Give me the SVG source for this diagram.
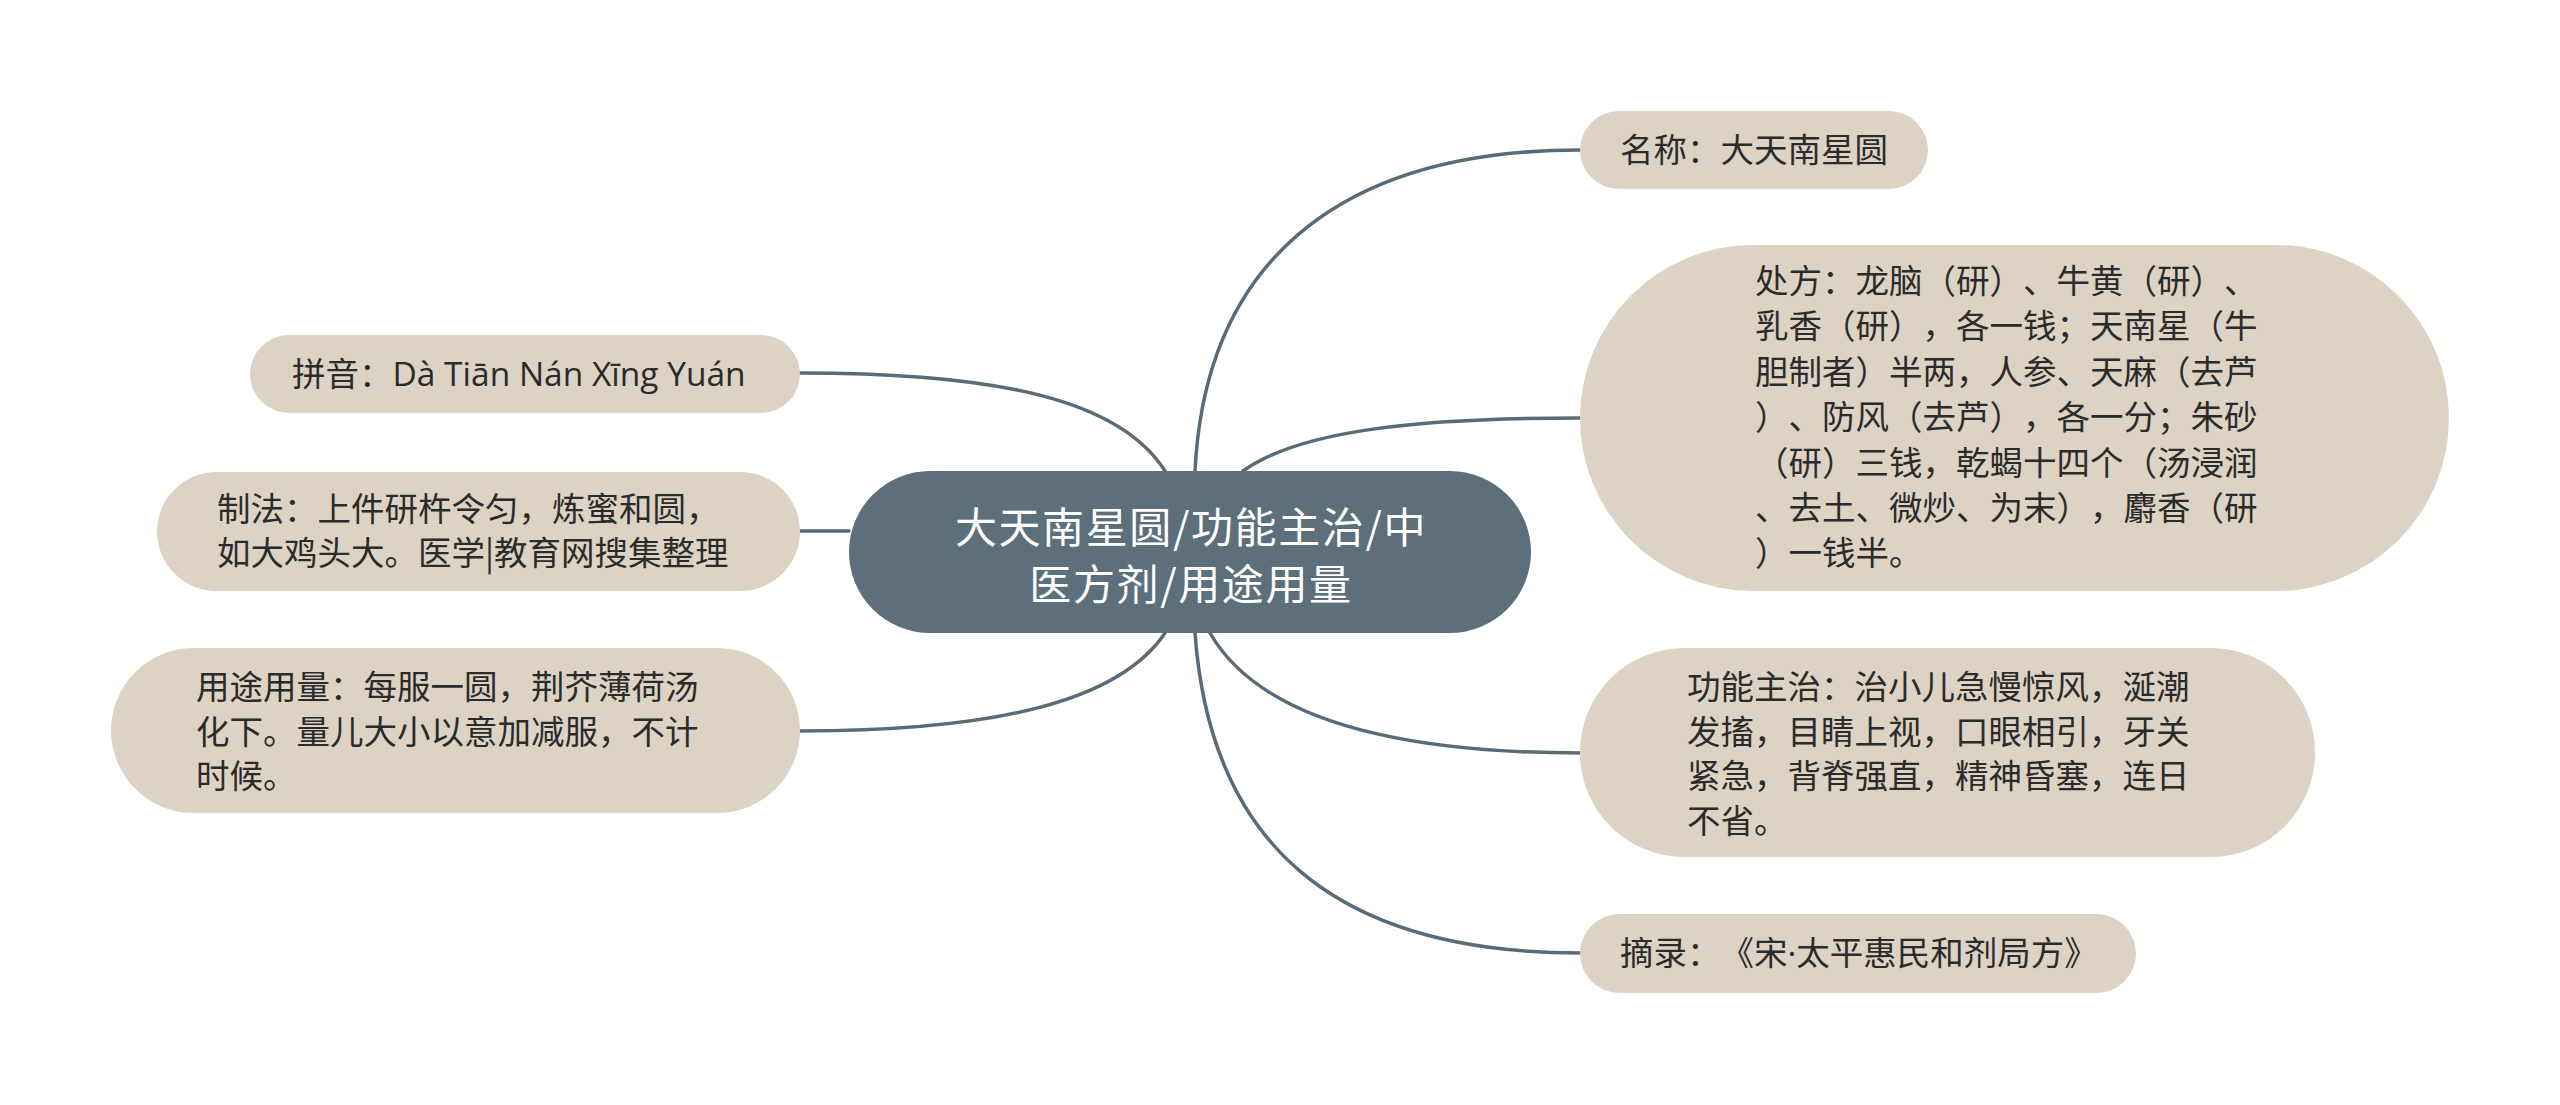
<svg xmlns="http://www.w3.org/2000/svg" width="2560" height="1105" viewBox="0 0 2560 1105">
<style>
.bg{fill:#ffffff}
.node rect{fill:#ddd3c4}
.t{font-family:"Noto Sans CJK SC","Noto Sans",sans-serif;font-size:33.5px;fill:#2b2b2b;text-spacing-trim:space-all}
.lat{font-family:"Open Sans","Noto Sans",sans-serif}
.center rect{fill:#5c6f7b}
.ct{font-family:"Noto Sans CJK SC","Noto Sans",sans-serif;font-size:42px;letter-spacing:1.6px;fill:#ffffff;text-anchor:middle}
.links path{fill:none;stroke:#5a6b77;stroke-width:3.5;stroke-linecap:round}
</style>
<rect class="bg" x="0" y="0" width="2560" height="1105"/>
<g class="links">
<path d="M1195,471 C1205,270 1330,150 1580,150"/>
<path d="M1243,471 C1300,430 1420,418 1581,418"/>
<path d="M1210,633 C1260,720 1400,753 1581,753"/>
<path d="M1195,633 C1210,840 1330,953 1580,953"/>
<path d="M800,373 C1000,373 1120,400 1165,471"/>
<path d="M800,531 L849,531"/>
<path d="M800,731 C1000,731 1120,700 1165,633"/>
</g>
<g id="center" class="center">
<rect x="849" y="471" width="682" height="162" rx="81"/>
<text class="ct"><tspan x="1191" y="543">大天南星圆/功能主治/中</tspan><tspan x="1191" y="600">医方剂/用途用量</tspan></text>
</g>
<g id="n-name" class="node">
<rect x="1580" y="111" width="348" height="78" rx="39"/>
<text class="t" x="1620" y="162">名称：大天南星圆</text>
</g>
<g id="n-recipe" class="node">
<rect x="1580" y="245" width="869" height="346" rx="173"/>
<text class="t"><tspan x="1755" y="293">处方：龙脑（研）、牛黄（研）、</tspan><tspan x="1755" y="338.4">乳香（研），各一钱；天南星（牛</tspan><tspan x="1755" y="383.8">胆制者）半两，人参、天麻（去芦</tspan><tspan x="1755" y="429.2">）、防风（去芦），各一分；朱砂</tspan><tspan x="1755" y="474.6">（研）三钱，乾蝎十四个（汤浸润</tspan><tspan x="1755" y="520">、去土、微炒、为末），麝香（研</tspan><tspan x="1755" y="565.4">）一钱半。</tspan></text>
</g>
<g id="n-func" class="node">
<rect x="1580" y="648" width="735" height="209" rx="104"/>
<text class="t"><tspan x="1687" y="699">功能主治：治小儿急慢惊风，涎潮</tspan><tspan x="1687" y="743.5">发搐，目睛上视，口眼相引，牙关</tspan><tspan x="1687" y="788">紧急，背脊强直，精神昏塞，连日</tspan><tspan x="1687" y="832.5">不省。</tspan></text>
</g>
<g id="n-source" class="node">
<rect x="1580" y="914" width="556" height="79" rx="39.5"/>
<text class="t" x="1620" y="965">摘录：《宋<tspan class="lat">·</tspan>太平惠民和剂局方》</text>
</g>
<g id="n-pinyin" class="node">
<rect x="250" y="335" width="550" height="78" rx="39"/>
<text class="t" x="292" y="386">拼音：<tspan class="lat">Dà Tiān Nán Xīng Yuán</tspan></text>
</g>
<g id="n-method" class="node">
<rect x="157" y="472" width="643" height="119" rx="59.5"/>
<text class="t"><tspan x="217" y="520.5">制法：上件研杵令匀，炼蜜和圆，</tspan><tspan x="217" y="565.1">如大鸡头大。医学|教育网搜集整理</tspan></text>
</g>
<g id="n-usage" class="node">
<rect x="111" y="648" width="689" height="165" rx="82.5"/>
<text class="t"><tspan x="196" y="699">用途用量：每服一圆，荆芥薄荷汤</tspan><tspan x="196" y="743.5">化下。量儿大小以意加减服，不计</tspan><tspan x="196" y="788">时候。</tspan></text>
</g>
</svg>
